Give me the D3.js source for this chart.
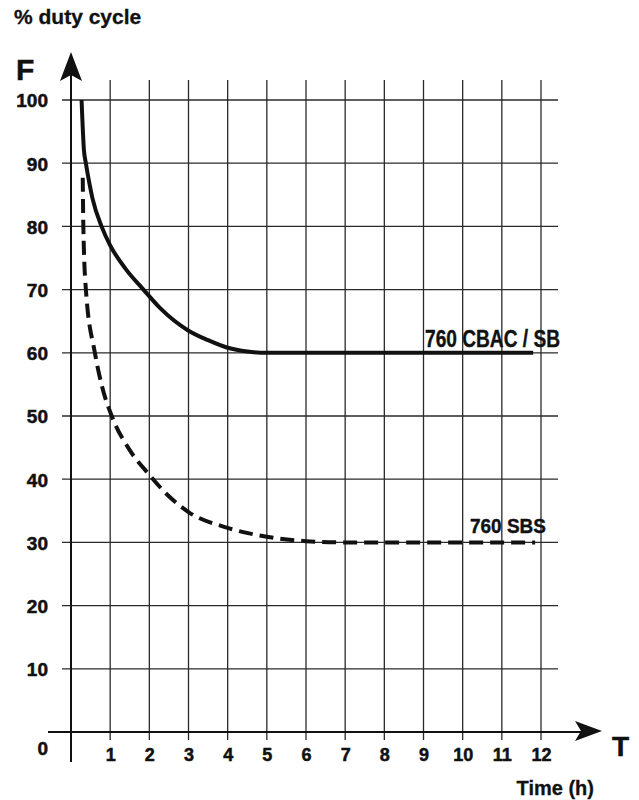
<!DOCTYPE html>
<html>
<head>
<meta charset="utf-8">
<script src="https://cdn.jsdelivr.net/npm/d3@7"></script>
<style>
  body { margin: 0; background: #fff; }
  svg { display: block; }
</style>
</head>
<body>
<div id="chart"></div>
<script>
// data
const hours = [1, 2, 3, 4, 5, 6, 7, 8, 9, 10, 11, 12];
const dutyTicks = [0, 10, 20, 30, 40, 50, 60, 70, 80, 90, 100];

const cbacTime = [0.27, 0.33, 0.38, 0.47, 0.55, 0.78, 1.0, 1.38, 1.85, 2.27, 3.0, 3.5, 4.0, 4.5, 5.0, 6.0, 11.8];
const cbacDuty = [100, 92.1, 90, 86.8, 84.4, 80, 77.0, 73.4, 70, 67.1, 63.5, 62, 60.8, 60.2, 60, 60, 60];

const sbsTime = [0.3, 0.315, 0.38, 0.61, 0.8, 1.04, 1.5, 2.0, 2.5, 3.0, 4.0, 5.0, 6.0, 7.0, 11.85];
const sbsDuty = [87.7, 80, 70, 60, 54.5, 50, 44.6, 40.7, 37.3, 34.8, 32.3, 30.9, 30.2, 30, 30];

const width = 639;
const height = 800;
const ink = "#111";
const grid = "#2a2a2a";
const font = "'Liberation Sans', Arial, Helvetica, sans-serif";

const x = d3.scaleLinear().domain([0, 12]).range([71, 541]);
const y = d3.scaleLinear().domain([0, 100]).range([732, 100]);

const svg = d3.select("#chart").append("svg")
    .attr("width", width)
    .attr("height", height)
    .attr("viewBox", [0, 0, width, height])
    .style("font-family", font)
    .style("font-weight", "bold");

// grid lines
svg.append("g")
    .attr("stroke", grid)
    .attr("stroke-width", 1.3)
    .selectAll("line")
    .data(dutyTicks.filter(d => d > 0))
    .join("line")
    .attr("x1", x(0) - 9)
    .attr("x2", x(12) + 17)
    .attr("y1", d => y(d))
    .attr("y2", d => y(d));

svg.append("g")
    .attr("stroke", grid)
    .attr("stroke-width", 1.3)
    .selectAll("line")
    .data(hours)
    .join("line")
    .attr("x1", d => x(d))
    .attr("x2", d => x(d))
    .attr("y1", y(100) - 20)
    .attr("y2", y(0) + 8);

// axes lines with arrow heads
svg.append("line")
    .attr("x1", x(0)).attr("x2", x(0))
    .attr("y1", y(0) + 30).attr("y2", y(100) - 30)
    .attr("stroke", ink).attr("stroke-width", 2);
svg.append("line")
    .attr("x1", x(0) - 23).attr("x2", x(12) + 40)
    .attr("y1", y(0)).attr("y2", y(0))
    .attr("stroke", ink).attr("stroke-width", 2);

const ax = x(0), ay = y(100) - 48;
svg.append("path")
    .attr("d", `M${ax},${ay} L${ax + 11},${ay + 29} L${ax},${ay + 23} L${ax - 11},${ay + 29} Z`)
    .attr("fill", ink);
const bx = x(12) + 61, by = y(0) - 1;
svg.append("path")
    .attr("d", `M${bx},${by} L${bx - 27},${by + 10} L${bx - 21},${by} L${bx - 27},${by - 10} Z`)
    .attr("fill", ink);

// tick labels
const yAxis = svg.append("g")
    .attr("transform", `translate(${x(0) - 23},0)`)
    .call(d3.axisLeft(y).tickValues(dutyTicks).tickSize(0).tickPadding(0));
yAxis.select(".domain").remove();
yAxis.selectAll("text")
    .attr("font-family", font)
    .attr("font-weight", "bold")
    .attr("font-size", 19)
    .attr("fill", ink)
    .attr("stroke", ink)
    .attr("stroke-width", 0.5)
    .attr("dy", d => d === 0 ? "1.2em" : "0.36em");

const xAxis = svg.append("g")
    .attr("transform", `translate(0,${y(0) + 16})`)
    .call(d3.axisBottom(x).tickValues(hours).tickSize(0).tickPadding(0));
xAxis.select(".domain").remove();
xAxis.selectAll("text")
    .attr("font-family", font)
    .attr("font-weight", "bold")
    .attr("font-size", 18)
    .attr("fill", ink)
    .attr("stroke", ink)
    .attr("stroke-width", 0.5);

// curves
const line = d3.line()
    .x(d => x(d[0]))
    .y(d => y(d[1]))
    .curve(d3.curveMonotoneX);

svg.append("path")
    .datum(d3.zip(cbacTime, cbacDuty))
    .attr("d", line)
    .attr("fill", "none")
    .attr("stroke", ink)
    .attr("stroke-width", 4);

svg.append("path")
    .datum(d3.zip(sbsTime, sbsDuty))
    .attr("d", line)
    .attr("fill", "none")
    .attr("stroke", ink)
    .attr("stroke-width", 4)
    .attr("stroke-dasharray", "14,7");

// series labels
svg.append("text")
    .attr("x", 425).attr("y", y(60) - 6)
    .attr("font-size", 24)
    .attr("textLength", 135)
    .attr("lengthAdjust", "spacingAndGlyphs")
    .attr("fill", ink)
    .attr("stroke", ink)
    .attr("stroke-width", 0.4)
    .text("760 CBAC / SB");

svg.append("text")
    .attr("x", 470).attr("y", y(30) - 9)
    .attr("font-size", 21)
    .attr("textLength", 76)
    .attr("lengthAdjust", "spacingAndGlyphs")
    .attr("fill", ink)
    .attr("stroke", ink)
    .attr("stroke-width", 0.4)
    .text("760 SBS");

// titles
svg.append("text")
    .attr("x", 14).attr("y", 24)
    .attr("font-size", 21)
    .attr("fill", ink)
    .attr("stroke", ink)
    .attr("stroke-width", 0.3)
    .text("% duty cycle");

svg.append("text")
    .attr("x", 16).attr("y", 80)
    .attr("font-size", 30)
    .attr("fill", ink)
    .attr("stroke", ink)
    .attr("stroke-width", 0.5)
    .text("F");

svg.append("text")
    .attr("x", 612).attr("y", 756)
    .attr("font-size", 28)
    .attr("fill", ink)
    .attr("stroke", ink)
    .attr("stroke-width", 0.5)
    .text("T");

svg.append("text")
    .attr("x", 594).attr("y", 795)
    .attr("text-anchor", "end")
    .attr("font-size", 20)
    .attr("fill", ink)
    .attr("stroke", ink)
    .attr("stroke-width", 0.3)
    .text("Time (h)");
</script>
</body>
</html>
